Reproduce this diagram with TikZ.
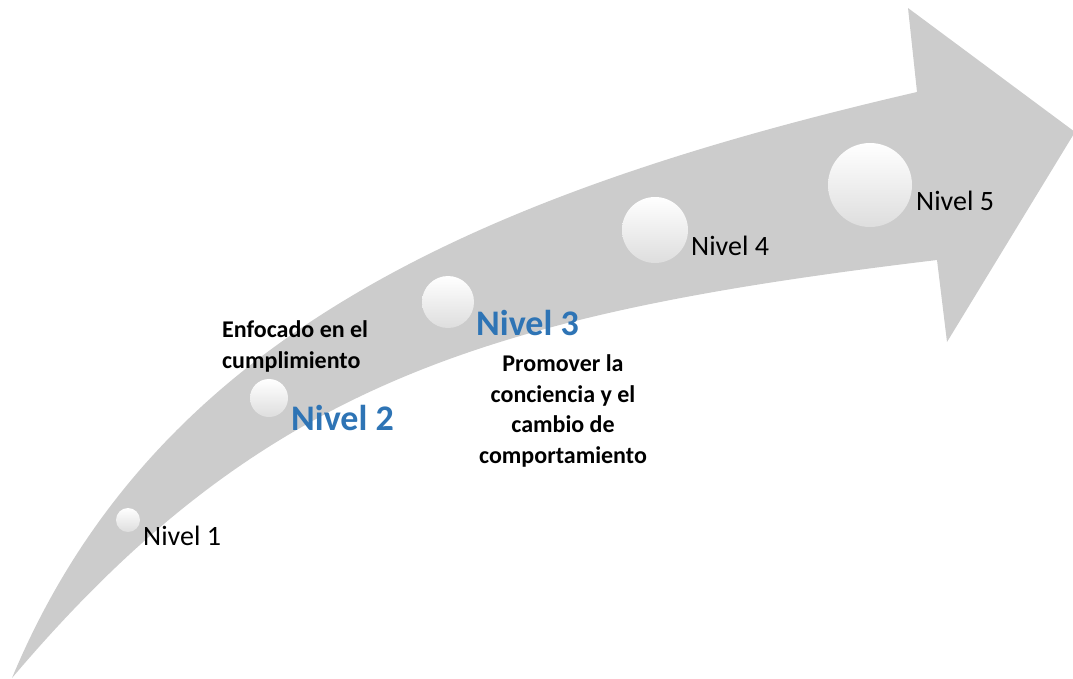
\documentclass[tikz,border=0pt]{standalone}
\usepackage{fontspec}
\setmainfont{Carlito}
\definecolor{arrowgray}{HTML}{CCCCCC}
\definecolor{levelblue}{HTML}{2E74B5}
\begin{document}
\begin{tikzpicture}[x=1pt,y=-1pt,
  ball/.style={circle,inner sep=0pt,shading=axis,top color=white,middle color=white,bottom color=black!13},
  plainlabel/.style={anchor=base west,inner sep=0pt,font=\fontsize{28}{34}\selectfont,text=black},
  bluelabel/.style={anchor=base west,inner sep=0pt,font=\fontsize{36}{42}\selectfont\bfseries,text=levelblue},
  note/.style={anchor=base,inner sep=0pt,font=\fontsize{24}{30.5}\selectfont\bfseries,text=black}]
\useasboundingbox (0,0) rectangle (1073,678);
% big curved arrow
\fill[arrowgray] (12,678) .. controls (152,342) and (467,196) .. (917,92)
  -- (908,8) -- (1075,132) -- (947,342) -- (937,260)
  .. controls (487,314) and (262,383) .. (12,678) -- cycle;
% balls
\node[ball,minimum size=24pt] (c1) at (128,520) {};
\node[ball,minimum size=38pt] (c2) at (269,398) {};
\node[ball,minimum size=52pt] (c3) at (448,302) {};
\node[ball,minimum size=66pt] (c4) at (655,230) {};
\node[ball,minimum size=84pt] (c5) at (870,185) {};
% labels
\node[plainlabel] (n1) at (143,545) {Nivel 1};
\node[bluelabel] (n2) at (291,430) {Nivel 2};
\node[bluelabel] (n3) at (476,335) {Nivel 3};
\node[plainlabel] (n4) at (691,255) {Nivel 4};
\node[plainlabel] (n5) at (916,210) {Nivel 5};
% descriptions
\node[note,anchor=base west,align=left] (d2) at (222,368) {Enfocado en el\\cumplimiento};
\node[note,align=center] (d3) at (563,463) {Promover la\\conciencia y el\\cambio de\\comportamiento};
\end{tikzpicture}
\end{document}
